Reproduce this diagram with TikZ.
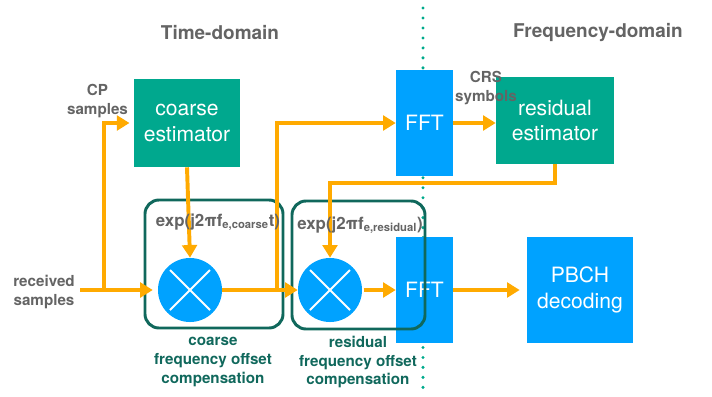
\documentclass[tikz,border=0pt]{standalone}
\usepackage{fontspec}
\setmainfont{TeX Gyre Heros}
\usetikzlibrary{arrows.meta}

\definecolor{estGreen}{RGB}{0,168,142}
\definecolor{blockBlue}{RGB}{0,162,255}
\definecolor{flowOrange}{RGB}{255,170,0}
\definecolor{compTeal}{RGB}{16,104,92}
\definecolor{labelGray}{RGB}{100,100,100}
\definecolor{dotTeal}{RGB}{0,170,140}

\tikzset{
  block/.style={rectangle, text=white, align=center, inner sep=0pt, font=\fontsize{15}{18}\selectfont},
  estBox/.style={block, fill=estGreen},
  dspBox/.style={block, fill=blockBlue},
  mixer/.style={circle, fill=blockBlue, minimum size=1.6cm, inner sep=0pt},
  compBox/.style={rectangle, draw=compTeal, line width=2.1pt, rounded corners=10pt, minimum height=3.2cm},
  flow/.style={draw=flowOrange, line width=2.8pt, -{Triangle[length=9pt,width=10.5pt]}},
  grayText/.style={text=labelGray, align=center, font=\bfseries\fontsize{10.8}{13}\selectfont},
  compText/.style={text=compTeal, align=center, font=\bfseries\fontsize{10.8}{13.5}\selectfont},
  titleText/.style={text=labelGray, font=\bfseries\fontsize{13.5}{16}\selectfont},
  expText/.style={text=labelGray, font=\bfseries\fontsize{12}{14}\selectfont}
}

\begin{document}
\begin{tikzpicture}[x=0.025cm, y=-0.025cm]
  \useasboundingbox (0,0) rectangle (712,396);

  % time / frequency split
  \draw[dotTeal, line width=2.4pt, line cap=round, dash pattern=on 0pt off 7.1pt] (423,8) -- (423,390);
  \node[titleText](timeTitle) at (220,33){Time-domain};
  \node[titleText](freqTitle) at (598,33){Frequency-domain};

  % blocks
  \node[estBox, minimum width=2.65cm, minimum height=2.2cm](coarseEst) at (187,123){coarse\\estimator};
  \node[dspBox, minimum width=1.425cm, minimum height=2.65cm](fftTop) at (424.5,123){FFT};
  \node[estBox, minimum width=2.95cm, minimum height=2.175cm](residualEst) at (555,120.5){residual\\estimator};
  \node[dspBox, minimum width=1.425cm, minimum height=2.65cm](fftBottom) at (424.5,290){FFT};
  \node[dspBox, minimum width=2.65cm, minimum height=2.65cm](pbch) at (580,290){PBCH\\decoding};

  % mixers
  \node[mixer](coarseMix) at (190,290){};
  \node[mixer](residualMix) at (330,290){};
  \foreach \m in {coarseMix, residualMix}{
    \draw[white, line width=1.5pt] (\m.center) +(-20,-20) -- +(20,20);
    \draw[white, line width=1.5pt] (\m.center) +(-20,20) -- +(20,-20);
  }

  % compensation frames
  \node[compBox, minimum width=3.45cm](coarseComp) at (214,264){};
  \node[compBox, minimum width=3.325cm](residualComp) at (358.5,265){};

  % signal flow
  \coordinate (rxIn) at (80,290);
  \coordinate (rxSplit) at (104,290);
  \coordinate (mixSplit) at (277,290);
  \draw[flow, shorten >=3.5pt] (rxIn) -- (coarseMix.west);
  \draw[flow, shorten >=3pt] (rxSplit) |- (coarseEst.west);
  \draw[flow] (coarseEst.south) -- (coarseMix.north);
  \draw[flow] (coarseMix.east) -- (residualMix.west);
  \draw[flow] (mixSplit) |- (fftTop.west);
  \draw[flow] (fftTop.east) -- (fftTop.east -| residualEst.west);
  \draw[flow] (residualEst.south) -- ++(0,19) -| (residualMix.north);
  \draw[flow, shorten <=1pt] (residualMix.east) -- (fftBottom.west);
  \draw[flow, shorten >=5pt] (fftBottom.east) -- (pbch.west);

  % labels
  \node[grayText](cpLabel) at (97.5,101){CP\\samples};
  \node[grayText](rxLabel) at (44,292){received\\samples};
  \node[grayText](crsLabel) at (486,88){CRS\\symbols};
  \node[expText](coarseExp) at (218,222){exp(j2πf\textsubscript{e,coarse}t)};
  \node[expText](residualExp) at (360,225){exp(j2πf\textsubscript{e,residual})};
  \node[compText](coarseCompLabel) at (213,362){coarse\\frequency offset\\compensation};
  \node[compText](residualCompLabel) at (358,362){residual\\frequency offset\\compensation};
\end{tikzpicture}
\end{document}
